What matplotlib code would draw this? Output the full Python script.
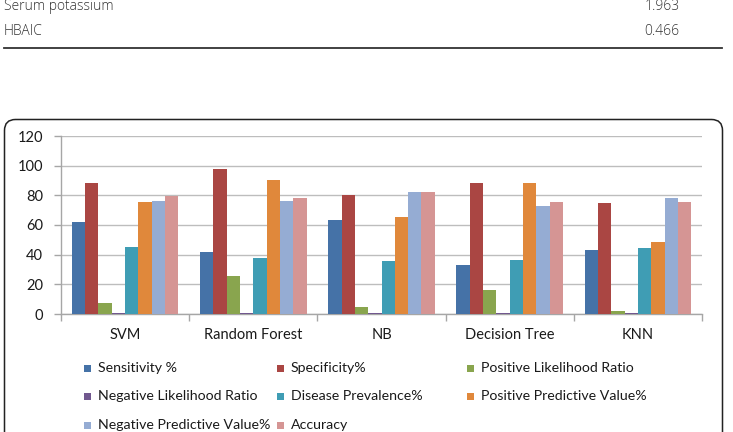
import matplotlib
matplotlib.use("Agg")
import matplotlib.pyplot as plt
import numpy as np
from matplotlib.patches import FancyBboxPatch, Rectangle
from matplotlib.lines import Line2D
from matplotlib.transforms import Affine2D

# table rows above the chart
table_labels = ["Serum potassium", "HBAIC"]
table_values = ["1.963", "0.466"]

# chart data
models = ["SVM", "Random Forest", "NB", "Decision Tree", "KNN"]
sensitivity = [62, 42, 63.5, 33, 43]
specificity = [88.5, 98, 80, 88, 74.5]
pos_lr = [7.2, 25.5, 4.5, 16, 2.3]
neg_lr = [0.5, 0.6, 0.4, 0.8, 0.8]
prevalence = [45, 38, 35.5, 36.5, 44.5]
ppv = [75.5, 90.5, 65.5, 88.5, 48.5]
npv = [76, 76, 82.5, 73, 78.5]
accuracy = [79.5, 78, 82.5, 75.5, 75.5]

series_names = ["Sensitivity %", "Specificity%", "Positive Likelihood Ratio",
                "Negative Likelihood Ratio", "Disease Prevalence%",
                "Positive Predictive Value%", "Negative Predictive Value%",
                "Accuracy"]
series = [sensitivity, specificity, pos_lr, neg_lr, prevalence, ppv, npv, accuracy]
colors = ["#4572A7", "#AA4643", "#89A54E", "#71588F",
          "#3F9DB4", "#E0883B", "#95ACD3", "#D59594"]

W, H = 733, 432
fig = plt.figure(figsize=(W / 100, H / 100), dpi=100)
# pixel coordinates, origin top-left
px = Affine2D().scale(1 / W, -1 / H).translate(0, 1) + fig.transFigure

# --- table fragment at the top ---
for i, (lab, val) in enumerate(zip(table_labels, table_values)):
    y = 7 + i * 24.5
    fig.text(4, y, lab, transform=px, va="center", ha="left", fontsize=10,
             family="Open Sans", weight="light", color="#333333")
    fig.text(662, y, val, transform=px, va="center", ha="center", fontsize=10,
             family="Open Sans", weight="light", color="#333333")
fig.add_artist(Line2D([4, 722], [47.5, 47.5], transform=px, color="#333333", lw=1.3))

# --- rounded chart frame ---
frame = FancyBboxPatch((4.5, 119.5), 718, 340, boxstyle="round,pad=0,rounding_size=11",
                       transform=px, facecolor="white", edgecolor="#222222", lw=1.1)
fig.add_artist(frame)

# --- bar chart ---
ax = fig.add_axes([61 / W, (H - 314) / H, 641 / W, 178 / H])
ax.set_zorder(2)
ax.patch.set_alpha(0)
x = np.arange(len(models))
bw = 0.104
for i, (vals, c) in enumerate(zip(series, colors)):
    ax.bar(x + (i - 3.5) * bw, vals, width=bw, color=c, linewidth=0, zorder=3)

ax.set_xlim(-0.5, len(models) - 0.5)
ax.set_ylim(0, 120)
ax.set_yticks(np.arange(0, 121, 20))
ax.yaxis.grid(True, color="#bdbdbd", lw=1)
ax.set_axisbelow(True)
for s in ["top", "right"]:
    ax.spines[s].set_visible(False)
for s in ["left", "bottom"]:
    ax.spines[s].set_color("#a6a6a6")
    ax.spines[s].set_linewidth(1)

ax.set_xticks(x)
ax.set_xticklabels(models)
ax.set_xticks(np.arange(-0.5, len(models)), minor=True)
ax.tick_params(axis="x", which="major", length=0, pad=10, labelsize=10.5, labelcolor="#1a1a1a")
ax.tick_params(axis="x", which="minor", length=5, color="#a6a6a6", width=1)
ax.tick_params(axis="y", length=5, color="#a6a6a6", width=1, pad=8,
               labelsize=10.5, labelcolor="#1a1a1a")
for t in ax.get_xticklabels() + ax.get_yticklabels():
    t.set_family("Lato")

# --- legend, three per row ---
col_x = [84, 277, 467]
row_y = [368, 396.5, 425]
for i, (name, c) in enumerate(zip(series_names, colors)):
    cx = col_x[i % 3]
    cy = row_y[i // 3]
    fig.add_artist(Rectangle((cx, cy - 3.5), 7, 7, transform=px, facecolor=c, lw=0))
    fig.text(cx + 14, cy, name, transform=px, va="center", ha="left",
             fontsize=10.2, family="Lato", color="#1a1a1a")

fig.savefig("out.png", dpi=100)
